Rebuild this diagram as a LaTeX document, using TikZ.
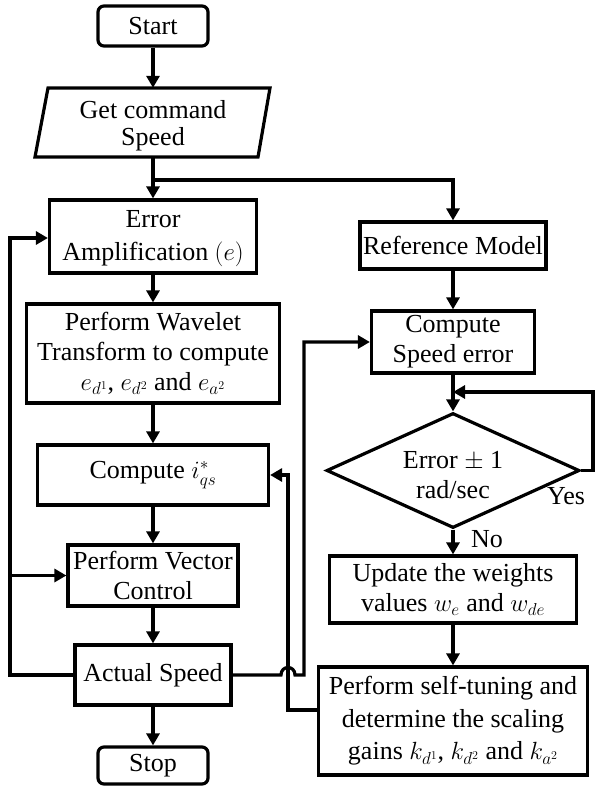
\documentclass[tikz,border=0pt]{standalone}
\usepackage{fontspec}
\setmainfont{Liberation Serif}
\newfontfamily\tnr{Liberation Serif}
\usetikzlibrary{shapes.geometric,arrows.meta,calc}
\begin{document}
\begin{tikzpicture}[x=1pt,y=-1pt,
  every node/.style={font=\tnr\fontsize{26}{30}\selectfont, align=center, inner sep=0pt},
  bline/.style={line width=3.2pt, line join=miter},
  box/.style={draw, bline, minimum width=#1},
  term/.style={draw, bline, rounded corners=6pt, minimum width=110},
  arr/.style={line width=3.2pt, -{Triangle[length=12pt,width=13pt]}},
  ln/.style={line width=3.2pt}
]
\useasboundingbox (0,0) rectangle (596,786);

% left column
\node[term, minimum height=40] (start) at (153,26) {Start};
\node[minimum width=200, minimum height=69] (in) at (153,122.5) {};
\node[font=\tnr\fontsize{26}{27}\selectfont] (intext) at (153,126) {Get command\\Speed};
\draw[bline] (48,88) -- (270,88) -- (258,157) -- (35,157) -- cycle;
\node[box=207, minimum height=73] (err) at (153,236.5) {};
\node[font=\tnr\fontsize{26}{33}\selectfont] (errtext) at (153,239) {Error\\Amplification $(e)$};
\node[box=253, minimum height=99, font=\tnr\fontsize{26}{30}\selectfont] (wave) at (153,353.5) {Perform Wavelet\\Transform to compute\\$e_{d^1}$, $e_{d^2}$ and $e_{a^2}$};
\node[box=231, minimum height=60] (iqs) at (153,475) {Compute $i_{qs}^{*}$};
\node[box=170, minimum height=61] (vec) at (153,575.5) {Perform Vector\\Control};
\node[box=156, minimum height=60] (act) at (153,675) {Actual Speed};
\node[term, minimum height=37] (stop) at (153,765.5) {Stop};

% right column
\node[box=186, minimum height=47] (ref) at (453,245.5) {Reference Model};
\node[box=163, minimum height=62] (cse) at (453,342) {Compute\\Speed error};
\node[draw, bline, diamond, aspect=2.2, minimum width=253, minimum height=115] (dia) at (453,470.5) {};
\node (diatext) at (453,475) {Error $\pm$ 1\\rad/sec};
\node[box=247, minimum height=67] (upd) at (453,589.5) {Update the weights\\values $w_e$ and $w_{de}$};
\node[box=269, minimum height=108, font=\tnr\fontsize{26}{32.5}\selectfont] (self) at (453,721) {Perform self-tuning and\\determine the scaling\\gains $k_{d^1}$, $k_{d^2}$ and $k_{a^2}$};

\node (yes) at (566,496) {Yes};
\node (no) at (487,539) {No};

% coordinates
\coordinate (br) at (153,180);
\coordinate (yj) at (453,392);

% main flow
\draw[arr] (start.south) -- (in.north);
\draw[arr] (in.south) -- (err.north);
\draw[arr] (br) -| (ref.north);
\draw[arr] (err.south) -- (wave.north);
\draw[arr] (wave.south) -- (iqs.north);
\draw[arr] (iqs.south) -- (vec.north);
\draw[arr] (vec.south) -- (act.north);
\draw[arr] (act.south) -- (stop.north);

\draw[arr] (ref.south) -- (cse.north);
\draw[arr] (cse.south) -- (dia.north);
\draw[arr] (dia.east) -- (593,470.5) |- (yj);
\draw[arr] (dia.south) -- (upd.north);
\draw[arr] (upd.south) -- (self.north);

% feedback loops
\draw[arr] (act.west) -- (10,675) |- ([yshift=-1.5pt]err.west);
\draw[arr] (10,575.5) -- (vec.west);
\draw[arr] ([yshift=11pt]self.west) -| (288,475) -- (iqs.east);
\draw[arr] (act.east) -- (281,675) .. controls (281,665) and (295,665) .. (295,675) -- (304,675) |- (cse.west);
\end{tikzpicture}
\end{document}
